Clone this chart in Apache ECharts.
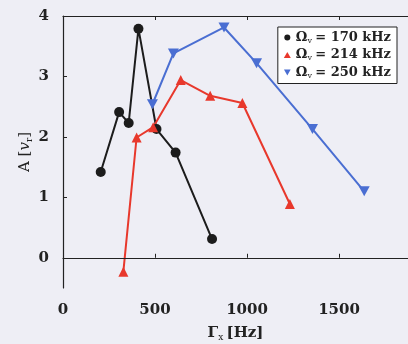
<!DOCTYPE html>
<html>
<head>
<meta charset="utf-8">
<script src="https://cdn.jsdelivr.net/npm/echarts@6/dist/echarts.min.js"></script>
<style>
  html, body { margin: 0; padding: 0; background: #eeeef5; }
  #chart { width: 408px; height: 344px; }
</style>
</head>
<body>
<div id="chart"></div>
<script>
// values
const freqs = ["170", "214", "250"];
const x170 = [205, 305, 357, 410, 508, 612, 810];
const y170 = [1.42, 2.41, 2.23, 3.79, 2.13, 1.74, 0.31];
const x214 = [328, 400, 490, 640, 800, 975, 1233];
const y214 = [-0.23, 1.99, 2.16, 2.94, 2.68, 2.56, 0.89];
const x250 = [486, 600, 875, 1052, 1356, 1637];
const y250 = [2.54, 3.38, 3.81, 3.22, 2.13, 1.1];
const xTicks = [0, 500, 1000, 1500];
const yTicks = [0, 1, 2, 3, 4];

const pair = (xs, ys) => xs.map((x, i) => [x, ys[i]]);
const font = "DejaVu Serif";
const downTri = "path://M0,0 L10,0 L5,9 Z";

let myChart = echarts.init(document.getElementById("chart"));

let option = {
  backgroundColor: "#eeeef5",
  animation: false,
  grid: { left: 63, top: 16, width: 345, height: 272, outerBoundsMode: "none", containLabel: false },
  legend: {
    right: 11,
    top: 27,
    orient: "vertical",
    backgroundColor: "#ffffff",
    borderColor: "#222",
    borderWidth: 1,
    borderRadius: 0,
    padding: [4, 6, 4, 6],
    itemGap: 4,
    itemWidth: 7,
    itemHeight: 6,
    formatter: (name) => "{o|Ω}{s|v} {o|= " + name + " kHz}",
    textStyle: {
      rich: {
        o: { fontFamily: font, fontWeight: "bold", fontSize: 13, color: "#222" },
        s: { fontFamily: font, fontSize: 8, color: "#222", padding: [6, 0, 0, 0] },
      },
    },
    data: [
      { name: freqs[0], icon: "circle" },
      { name: freqs[1], icon: "triangle" },
      { name: freqs[2], icon: downTri },
    ],
  },
  xAxis: [
    {
      type: "value",
      min: 0,
      max: 1875,
      interval: 500,
      name: "{g|Γ}{s|x} {g|[Hz]}",
      nameLocation: "middle",
      nameGap: 37,
      nameMoveOverlap: false,
      nameTextStyle: {
        rich: {
          g: { fontFamily: font, fontWeight: "bold", fontSize: 15, color: "#222" },
          s: { fontFamily: font, fontSize: 9, color: "#222", padding: [8, 0, 0, 0] },
        },
      },
      axisLine: { lineStyle: { color: "#222", width: 1.2 } },
      axisTick: { inside: true, length: 4, customValues: xTicks, lineStyle: { color: "#222" } },
      axisLabel: {
        fontFamily: font, fontWeight: "bold", fontSize: 15, color: "#222", margin: 15,
        customValues: xTicks, formatter: (v) => String(v),
      },
      splitLine: { show: false },
    },
    {
      type: "value",
      position: "top",
      min: 0,
      max: 1875,
      interval: 500,
      axisLine: { show: true, lineStyle: { color: "#222", width: 1.2 } },
      axisTick: { inside: true, length: 4, customValues: xTicks, lineStyle: { color: "#222" } },
      axisLabel: { show: false },
      splitLine: { show: false },
    },
  ],
  yAxis: {
    type: "value",
    min: -0.5,
    max: 4,
    name: "{g|A [}{i|v}{s|r}{g|]}",
    nameLocation: "middle",
    nameGap: 29,
    nameMoveOverlap: false,
    nameTextStyle: {
      rich: {
        g: { fontFamily: font, fontSize: 15, color: "#222" },
        i: { fontFamily: font, fontStyle: "italic", fontSize: 15, color: "#222" },
        s: { fontFamily: font, fontSize: 9, color: "#222", padding: [8, 0, 0, 0] },
      },
    },
    axisLine: { show: true, lineStyle: { color: "#222", width: 1.2 } },
    axisTick: { inside: true, length: 4, customValues: yTicks, lineStyle: { color: "#222" } },
    axisLabel: { fontFamily: font, fontWeight: "bold", fontSize: 15, color: "#222", margin: 14, customValues: yTicks },
    splitLine: { show: false },
  },
  series: [
    {
      name: freqs[0],
      type: "line",
      data: pair(x170, y170),
      symbol: "circle",
      symbolSize: 10,
      color: "#1c1c1c",
      lineStyle: { width: 2 },
      markLine: {
        silent: true,
        symbol: "none",
        label: { show: false },
        lineStyle: { color: "#222", width: 1, type: "solid" },
        data: [{ yAxis: 0 }],
      },
    },
    {
      name: freqs[1],
      type: "line",
      data: pair(x214, y214),
      symbol: "triangle",
      symbolSize: 10,
      color: "#e8382c",
      lineStyle: { width: 2 },
    },
    {
      name: freqs[2],
      type: "line",
      data: pair(x250, y250),
      symbol: downTri,
      symbolSize: [11, 10],
      color: "#4a6ed2",
      lineStyle: { width: 2 },
    },
  ],
};

myChart.setOption(option);
</script>
</body>
</html>
